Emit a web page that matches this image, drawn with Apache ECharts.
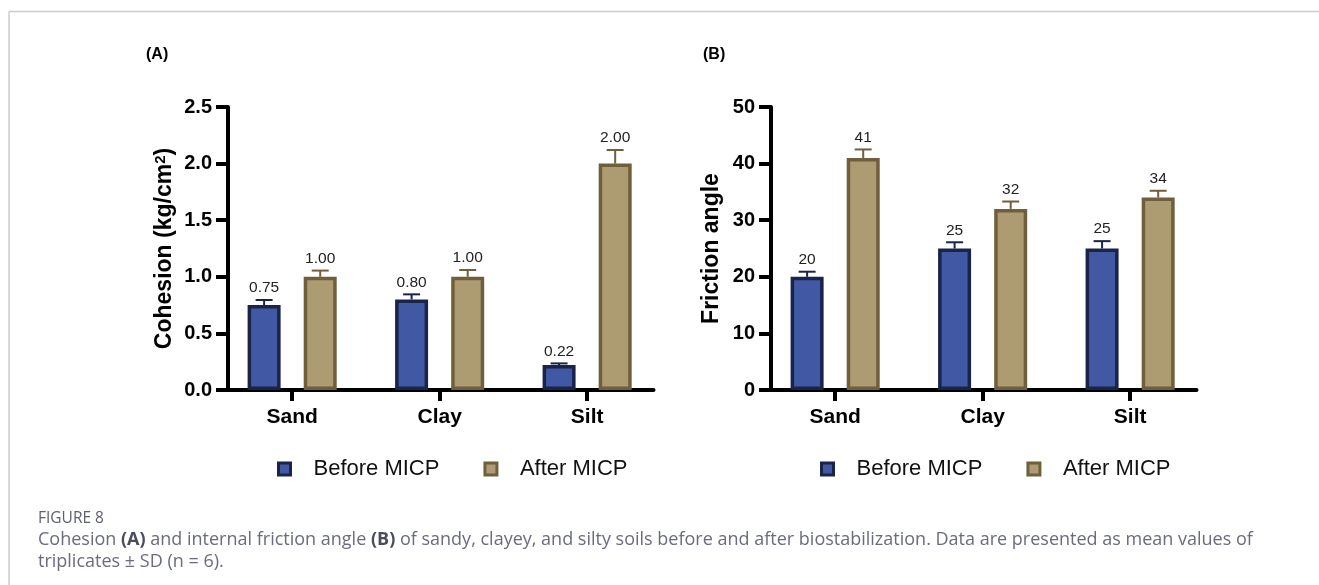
<!DOCTYPE html>
<html><head><meta charset="utf-8">
<script src="https://cdn.jsdelivr.net/npm/echarts@6/dist/echarts.min.js"></script>
<style>html,body{margin:0;padding:0;background:#fff}#c{width:1319px;height:585px}</style>
</head><body><div id="c"></div>
<script>
// ---- data ----
const categories = ['Sand', 'Clay', 'Silt'];
const seriesNames = ['Before MICP', 'After MICP'];
const cohesionBefore = [0.75, 0.80, 0.22];
const cohesionAfter = [1.00, 1.00, 2.00];
const cohesionBeforeSD = [0.045, 0.045, 0.015];
const cohesionAfterSD = [0.055, 0.06, 0.12];
const frictionBefore = [20, 25, 25];
const frictionAfter = [41, 32, 34];
const frictionBeforeSD = [0.9, 1.1, 1.3];
const frictionAfterSD = [1.5, 1.3, 1.2];
const cohesionAxis = { min: 0, max: 2.5, interval: 0.5, name: 'Cohesion (kg/cm{sup|2})', decimals: 1, labelDecimals: 2 };
const frictionAxis = { min: 0, max: 50, interval: 10, name: 'Friction angle', decimals: 0, labelDecimals: 0 };

// ---- styles ----
const FONT = '"Liberation Sans", Arial, Helvetica, sans-serif';
const CAP_FONT = '"Open Sans", "Noto Sans", sans-serif';
const BAR_W = 33, BAR_GAP = 0.7;
const OFF = BAR_W * (1 + BAR_GAP) / 2;
const styles = [
  { color: '#4158A4', border: '#1A2449' },
  { color: '#AD9B71', border: '#6F5F3C' }
];

function xAxisCfg(g) {
  return {
    type: 'value', gridIndex: g, min: -0.435, max: 2.45,
    axisLine: { show: true, onZero: false, lineStyle: { color: '#000', width: 4 } },
    axisTick: { show: true, customValues: [0, 1, 2], length: 11, lineStyle: { color: '#000', width: 4 } },
    axisLabel: { customValues: [0, 1, 2], formatter: v => categories[Math.round(v)] || '', fontSize: 21, fontWeight: 'bold', color: '#000', margin: 17, fontFamily: FONT },
    splitLine: { show: false }
  };
}
function yAxisCfg(g, ax, gap) {
  return {
    type: 'value', gridIndex: g, min: ax.min, max: ax.max, interval: ax.interval,
    name: ax.name, nameLocation: 'middle', nameGap: gap,
    nameTextStyle: {
      fontSize: 23, fontWeight: 'bold', color: '#000', fontFamily: FONT,
      rich: { sup: { fontSize: 15, fontWeight: 'bold', color: '#000', fontFamily: FONT, verticalAlign: 'top', lineHeight: 15 } }
    },
    axisLine: { show: true, onZero: false, lineStyle: { color: '#000', width: 4 } },
    axisTick: { show: true, length: 12, lineStyle: { color: '#000', width: 4 } },
    axisLabel: { formatter: v => v.toFixed(ax.decimals), fontSize: 20, fontWeight: 'bold', color: '#000', margin: 16, fontFamily: FONT },
    splitLine: { show: false }
  };
}
function barSeries(g, k, vals) {
  return {
    type: 'bar', name: seriesNames[k], xAxisIndex: g, yAxisIndex: g,
    data: vals.map((v, i) => [i, v]), barWidth: BAR_W, barGap: (BAR_GAP * 100) + '%',
    itemStyle: { color: styles[k].color, borderColor: styles[k].border, borderWidth: 3.5 },
    silent: true, z: 2
  };
}
function errSeries(g, k, vals, sds, dec) {
  const off = k === 0 ? -OFF : OFF;
  const col = styles[k].border;
  return {
    type: 'custom', xAxisIndex: g, yAxisIndex: g, silent: true, z: 3,
    data: vals.map((v, i) => [i, v, sds[i]]),
    renderItem: function (params, api) {
      const x = api.value(0), v = api.value(1), sd = api.value(2);
      const p0 = api.coord([x, v]);
      const p1 = api.coord([x, v + sd]);
      const cx = p0[0] + off;
      return {
        type: 'group', children: [
          { type: 'line', shape: { x1: cx, y1: p0[1], x2: cx, y2: p1[1] }, style: { stroke: col, lineWidth: 2 } },
          { type: 'line', shape: { x1: cx - 8.5, y1: p1[1], x2: cx + 8.5, y2: p1[1] }, style: { stroke: col, lineWidth: 2 } },
          { type: 'text', x: cx, y: p1[1] - 4, style: { text: v.toFixed(dec), align: 'center', verticalAlign: 'bottom', font: '15.5px ' + FONT, fill: '#222' } }
        ]
      };
    }
  };
}
function legendCfg(left) {
  return {
    left: left, top: 453, orient: 'horizontal', icon: 'rect', itemWidth: 12, itemHeight: 12, itemGap: 44,
    selectedMode: false,
    data: seriesNames.map((n, k) => ({ name: n, itemStyle: { color: styles[k].color, borderColor: styles[k].border, borderWidth: 3 } })),
    textStyle: { fontSize: 22, color: '#111', fontFamily: FONT, padding: [0, 0, 0, 18] }
  };
}

const chart = echarts.init(document.getElementById('c'), null, { renderer: 'canvas', width: 1319, height: 585 });
chart.setOption({
  animation: false,
  backgroundColor: '#fff',
  grid: [
    { left: 228, top: 107, width: 425.5, height: 283 },
    { left: 771, top: 107, width: 425.5, height: 283 }
  ],
  xAxis: [xAxisCfg(0), xAxisCfg(1)],
  yAxis: [yAxisCfg(0, cohesionAxis, 52), yAxisCfg(1, frictionAxis, 48)],
  legend: [legendCfg(272), legendCfg(815)],
  series: [
    barSeries(0, 0, cohesionBefore), barSeries(0, 1, cohesionAfter),
    errSeries(0, 0, cohesionBefore, cohesionBeforeSD, cohesionAxis.labelDecimals),
    errSeries(0, 1, cohesionAfter, cohesionAfterSD, cohesionAxis.labelDecimals),
    barSeries(1, 0, frictionBefore), barSeries(1, 1, frictionAfter),
    errSeries(1, 0, frictionBefore, frictionBeforeSD, frictionAxis.labelDecimals),
    errSeries(1, 1, frictionAfter, frictionAfterSD, frictionAxis.labelDecimals)
  ],
  graphic: [
    { type: 'line', shape: { x1: 9, y1: 11.5, x2: 1319, y2: 11.5 }, style: { stroke: '#cccccc', lineWidth: 1.5 }, silent: true },
    { type: 'line', shape: { x1: 9, y1: 11.5, x2: 9, y2: 585 }, style: { stroke: '#cccccc', lineWidth: 1.5 }, silent: true },
    { type: 'text', left: 146, top: 47, style: { text: '(A)', font: 'bold 16px ' + FONT, fill: '#000' } },
    { type: 'text', left: 703, top: 47, style: { text: '(B)', font: 'bold 16px ' + FONT, fill: '#000' } },
    { type: 'text', left: 38, top: 511, style: { text: 'FIGURE 8', font: '15.5px ' + CAP_FONT, fill: '#5e6070' } },
    {
      type: 'text', left: 38, top: 529,
      style: {
        text: 'Cohesion {b|(A)} and internal friction angle {b|(B)} of sandy, clayey, and silty soils before and after biostabilization. Data are presented as mean values of\ntriplicates ± SD (n = 6).',
        font: '18px ' + CAP_FONT, fill: '#6a6c7e', lineHeight: 22,
        rich: { b: { fontWeight: 'bold', fontSize: 18, fontFamily: CAP_FONT, fill: '#4a4c5c', lineHeight: 22 } }
      }
    }
  ]
});
</script>
</body></html>
